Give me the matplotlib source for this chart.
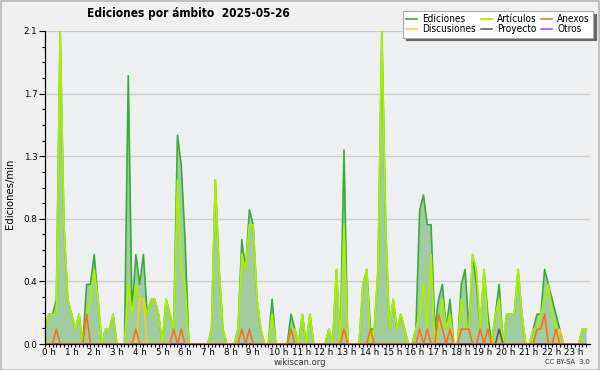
import matplotlib
matplotlib.use("Agg")
import matplotlib.pyplot as plt
import matplotlib.transforms as mtransforms
from matplotlib.patches import Rectangle
import numpy as np

# ---- data: edits per minute, one value per 10-minute slot (144 slots) ----
ediciones = [
    0.1, 0.2, 0.2, 0.3, 2.1, 0.8, 0.3, 0.2, 0.1, 0.2, 0.0, 0.4,
    0.4, 0.6, 0.3, 0.0, 0.1, 0.1, 0.2, 0.0, 0.0, 0.0, 1.8, 0.2,
    0.6, 0.4, 0.6, 0.2, 0.3, 0.3, 0.2, 0.0, 0.3, 0.2, 0.1, 1.4,
    1.2, 0.7, 0.0, 0.0, 0.0, 0.0, 0.0, 0.0, 0.1, 1.1, 0.5, 0.1,
    0.0, 0.0, 0.0, 0.1, 0.7, 0.5, 0.9, 0.8, 0.3, 0.1, 0.0, 0.0,
    0.3, 0.0, 0.0, 0.0, 0.0, 0.2, 0.1, 0.0, 0.2, 0.0, 0.2, 0.0,
    0.0, 0.0, 0.0, 0.1, 0.0, 0.5, 0.0, 1.3, 0.0, 0.0, 0.0, 0.0,
    0.4, 0.5, 0.1, 0.1, 0.5, 2.1, 0.8, 0.1, 0.3, 0.1, 0.2, 0.1,
    0.0, 0.0, 0.1, 0.9, 1.0, 0.8, 0.8, 0.1, 0.3, 0.4, 0.1, 0.3,
    0.0, 0.0, 0.4, 0.5, 0.1, 0.6, 0.4, 0.1, 0.5, 0.2, 0.0, 0.2,
    0.4, 0.0, 0.2, 0.2, 0.2, 0.5, 0.2, 0.0, 0.0, 0.1, 0.2, 0.2,
    0.5, 0.4, 0.3, 0.2, 0.1, 0.0, 0.0, 0.0, 0.0, 0.0, 0.1, 0.1,
]
articulos = [
    0.1, 0.2, 0.2, 0.2, 2.1, 0.8, 0.3, 0.2, 0.1, 0.2, 0.0, 0.2,
    0.3, 0.5, 0.3, 0.0, 0.1, 0.1, 0.2, 0.0, 0.0, 0.0, 0.4, 0.2,
    0.4, 0.3, 0.3, 0.2, 0.3, 0.3, 0.2, 0.0, 0.3, 0.2, 0.1, 1.1,
    0.5, 0.4, 0.0, 0.0, 0.0, 0.0, 0.0, 0.0, 0.1, 1.1, 0.5, 0.1,
    0.0, 0.0, 0.0, 0.1, 0.6, 0.5, 0.8, 0.8, 0.3, 0.1, 0.0, 0.0,
    0.2, 0.0, 0.0, 0.0, 0.0, 0.1, 0.1, 0.0, 0.2, 0.0, 0.2, 0.0,
    0.0, 0.0, 0.0, 0.1, 0.0, 0.5, 0.0, 0.8, 0.0, 0.0, 0.0, 0.0,
    0.4, 0.5, 0.0, 0.1, 0.5, 2.1, 0.8, 0.1, 0.3, 0.1, 0.2, 0.1,
    0.0, 0.0, 0.1, 0.2, 0.4, 0.1, 0.6, 0.0, 0.1, 0.3, 0.1, 0.2,
    0.0, 0.0, 0.3, 0.1, 0.1, 0.6, 0.5, 0.1, 0.5, 0.1, 0.0, 0.2,
    0.3, 0.0, 0.2, 0.2, 0.2, 0.5, 0.2, 0.0, 0.0, 0.1, 0.1, 0.2,
    0.3, 0.4, 0.2, 0.1, 0.0, 0.0, 0.0, 0.0, 0.0, 0.0, 0.1, 0.1,
]
anexos_slots = [3, 11, 24, 34, 36, 52, 54, 65, 79, 86, 99, 101, 104, 105,
                107, 110, 111, 112, 115, 117, 130, 131, 132, 135]
anexos_vals = [0.1, 0.2, 0.1, 0.1, 0.1, 0.1, 0.1, 0.1, 0.1, 0.1, 0.1, 0.1, 0.2, 0.1,
               0.1, 0.1, 0.1, 0.1, 0.1, 0.1, 0.1, 0.1, 0.2, 0.1]
discusiones_slots = [25, 26, 136]
discusiones_vals = [0.3, 0.3, 0.1]
proyecto_slots = [120]
proyecto_vals = [0.1]
otros_slots = []
otros_vals = []

n_slots = 144
hours = np.arange(n_slots) / 6.0

def expand(slots, vals):
    arr = np.zeros(n_slots)
    for s, v in zip(slots, vals):
        arr[s] = v
    return arr

anexos = expand(anexos_slots, anexos_vals)
discusiones = expand(discusiones_slots, discusiones_vals)
proyecto = expand(proyecto_slots, proyecto_vals)
otros = expand(otros_slots, otros_vals)

y_ticks = [0.0, 0.42, 0.84, 1.26, 1.68, 2.1]
y_ticklabels = ["0.0", "0.4", "0.8", "1.3", "1.7", "2.1"]
x_hours = list(range(24))
x_ticklabels = [f"{h} h" for h in x_hours]

title = "Ediciones por ámbito  2025-05-26"

# ---- figure ----
W, H = 600, 370
fig = plt.figure(figsize=(6, 3.7), dpi=100, facecolor="#f0f0f0")
L, R, T, B = 45, 590, 31, 344
ax = fig.add_axes([L / W, 1 - B / H, (R - L) / W, (B - T) / H])
ax.set_facecolor("#eeeff1")

c_ed = "#3aaa3a"
c_fill = "#a0cca0"
c_art = "#aeee00"
c_anx = "#ff6a1a"
c_dis = "#ffcc22"
c_pro = "#555555"
c_otr = "#9944ee"

ax.fill_between(hours, ediciones, 0, color=c_fill, lw=0, zorder=2)
ax.plot(hours, ediciones, color=c_ed, lw=1.2, zorder=3, label="Ediciones")
ax.plot(hours, articulos, color=c_art, lw=1.3, zorder=4, label="Artículos")
ax.plot(hours, anexos, color=c_anx, lw=1.1, zorder=6, label="Anexos")
ax.plot(hours, discusiones, color=c_dis, lw=1.1, zorder=5, label="Discusiones")
ax.plot(hours, proyecto, color=c_pro, lw=1.1, zorder=5, label="Proyecto")
ax.plot(hours, otros, color=c_otr, lw=1.1, zorder=5, label="Otros")

ax.set_xlim(0, 24)
ax.set_ylim(0, 2.1)

ax.set_yticks(y_ticks)
ax.set_yticklabels(y_ticklabels)
ax.set_yticks(np.linspace(0, 2.1, 21), minor=True)
ax.set_xticks(x_hours)
ax.set_xticklabels(x_ticklabels)
ax.set_xticks(np.arange(0, 24, 1 / 6), minor=True)

ax.tick_params(axis="y", which="major", length=4.5, width=0.8, labelsize=6.3, pad=1, colors="black")
ax.tick_params(axis="y", which="minor", length=2.2, width=0.8)
ax.tick_params(axis="x", which="major", length=2.2, width=0.8, labelsize=6.3, pad=0.5)
ax.tick_params(axis="x", which="minor", length=2.0, width=0.8)

offset = mtransforms.ScaledTranslation(-3 / 100, 0, fig.dpi_scale_trans)
for lbl in ax.get_xticklabels():
    lbl.set_ha("left")
    lbl.set_transform(lbl.get_transform() + offset)

ax.grid(axis="y", which="major", color="#cccccc", lw=0.9, zorder=1)
ax.set_axisbelow(True)
for s in ["top", "right"]:
    ax.spines[s].set_visible(False)
for s in ["left", "bottom"]:
    ax.spines[s].set_color("black")
    ax.spines[s].set_linewidth(0.9)
    ax.spines[s].set_zorder(7)

# legend (column-wise fill -> rows: Ediciones/Artículos/Anexos, Discusiones/Proyecto/Otros)
h, l = ax.get_legend_handles_labels()
order = [0, 3, 1, 4, 2, 5]
leg = fig.legend([h[i] for i in order], [l[i] for i in order], ncol=3,
                 loc="upper right", bbox_to_anchor=(593 / W, 1 - 11 / H),
                 prop={"size": 7.2, "stretch": "condensed"}, frameon=True, fancybox=False,
                 edgecolor="#aaaaaa",
                 facecolor="white", framealpha=1, handlelength=1.1, handletextpad=0.5,
                 columnspacing=0.5, labelspacing=0.05, borderpad=0.3,
                 borderaxespad=0, shadow={"color": "#666666", "alpha": 1})
leg.get_frame().set_linewidth(0.8)

fig.text(188 / W, 1 - 14 / H, title, ha="center", va="center", fontsize=8.6, weight="bold",
         stretch="condensed")
fig.text(10 / W, 1 - 194 / H, "Ediciones/min", rotation=90, ha="center", va="center", fontsize=7.3)
fig.text(300 / W, 1 - 362.5 / H, "wikiscan.org", ha="center", va="center", fontsize=6.0, color="#333333")
fig.text(590 / W, 1 - 362.5 / H, "CC BY-SA  3.0", ha="right", va="center", fontsize=4.8, color="#333333")

fig.patches.append(Rectangle((0.5 / W, 0.5 / H), 1 - 1.5 / W, 1 - 1.5 / H, transform=fig.transFigure,
                             fill=False, edgecolor="#b8b8b8", lw=1.2))

fig.savefig("out.png", dpi=100, facecolor=fig.get_facecolor())
